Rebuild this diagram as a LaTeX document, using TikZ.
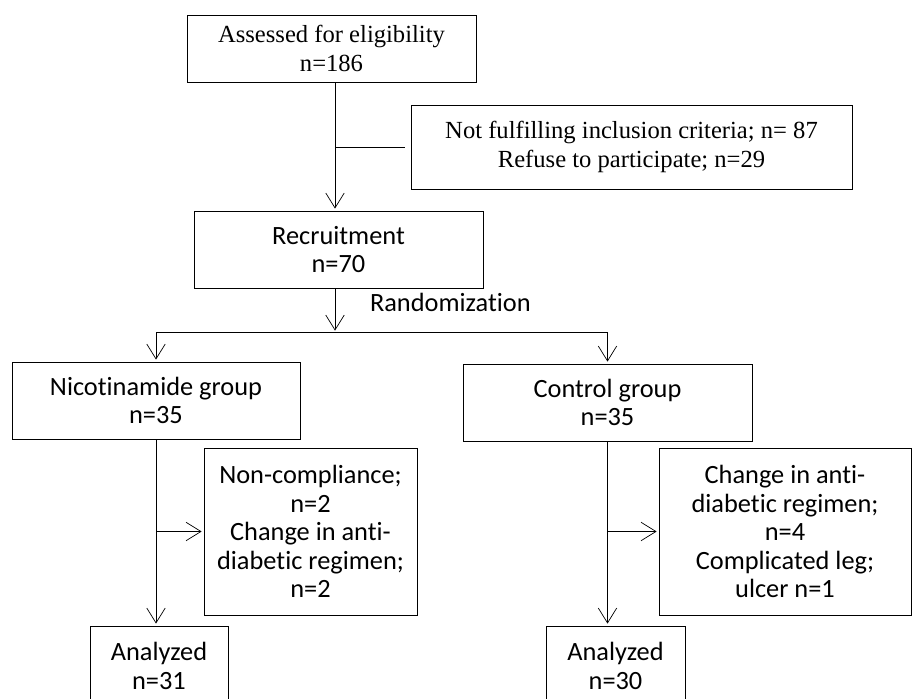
\documentclass[tikz,border=0pt]{standalone}
\usepackage{fontspec}
\setmainfont{Liberation Serif}
\newfontfamily\calib[Ligatures=NoCommon]{Carlito}
\usetikzlibrary{positioning,arrows.meta,calc}

\begin{document}
\begin{tikzpicture}
    \tikzset{x=0.02cm,y=-0.02cm,line width=1.2pt,
      >={Straight Barb[length=8.5pt,width=10.5pt]},
      serifbox/.style={draw,align=center,inner sep=0pt,font=\fontsize{14}{16}\selectfont},
      sansbox/.style={draw,align=center,inner sep=0pt,font=\calib\fontsize{15}{16.2}\selectfont}}
    \useasboundingbox (0,0) rectangle (912,699);
%   top part
    \node [serifbox,minimum width=5.78cm,minimum height=1.34cm] (assess) at (331.5,48.5) {Assessed for eligibility\\n=186};
    \node [serifbox,minimum width=8.82cm,minimum height=1.68cm] (exclude) at (631.5,147) {Not fulfilling inclusion criteria; n= 87\\Refuse to participate; n=29};
    \node [sansbox,minimum width=5.78cm,minimum height=1.54cm] (recruit) at (338.5,249.5) {Recruitment\\n=70};
    \coordinate (spine) at (335,0);
    \coordinate (split) at (335,332);
    \draw[->] (spine |- assess.south) -- (spine |- recruit.north);
    \draw[shorten >=3pt] (spine |- exclude.west) -- (exclude.west);
%   randomization
    \node [font=\calib\fontsize{15}{16.2}\selectfont,anchor=west,inner sep=0pt] (rand) at (369,302) {Randomization};
    \draw[->] (spine |- recruit.south) -- (split);
    \node [sansbox,minimum width=5.76cm,minimum height=1.54cm] (nico) at (156,400.5) {Nicotinamide group\\n=35};
    \node [sansbox,minimum width=5.78cm,minimum height=1.54cm] (control) at (607.5,402.5) {Control group\\n=35};
    \draw[->] (split) -| (nico.north);
    \draw[->] (split) -| (control.north);
%   follow up
    \node [sansbox,minimum width=4.26cm,minimum height=3.34cm] (lossnico) at (310.5,531.5) {Non-compliance;\\n=2\\Change in anti-\\diabetic regimen;\\n=2};
    \node [sansbox,minimum width=5.04cm,minimum height=3.34cm] (losscont) at (785,531.5) {Change in anti-\\diabetic regimen;\\n=4\\Complicated leg;\\ulcer n=1};
    \node [sansbox,minimum width=2.76cm,minimum height=1.6cm] (analnico) at (159,666) {Analyzed\\n=31};
    \node [sansbox,minimum width=2.78cm,minimum height=1.6cm] (analcont) at (615.5,666) {Analyzed\\n=30};
    \draw[->] (nico.south) -- (nico.south |- analnico.north);
    \draw[->] (control.south) -- (control.south |- analcont.north);
    \draw[->] (nico.south |- lossnico.west) -- (lossnico.west);
    \draw[->] (control.south |- losscont.west) -- (losscont.west);
\end{tikzpicture}
\end{document}
